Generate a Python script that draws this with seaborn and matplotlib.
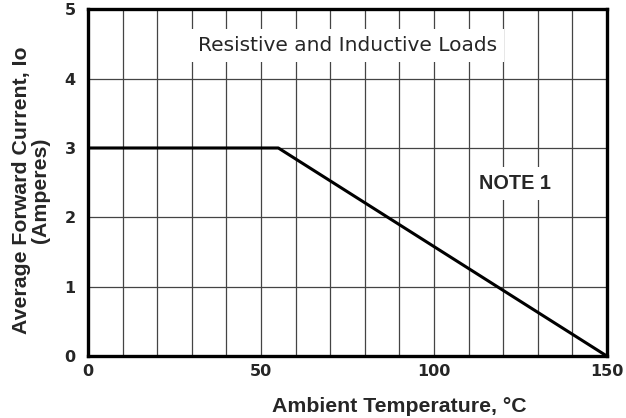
import matplotlib
matplotlib.use("Agg")
import matplotlib.pyplot as plt
import seaborn as sns
import pandas as pd
import numpy as np

temperature = [0, 55, 150]
current = [3, 3, 0]
x_ticks = [0, 50, 100, 150]
y_ticks = [0, 1, 2, 3, 4, 5]

sns.set_style("white")
plt.rcParams['font.family'] = ['Liberation Sans', 'DejaVu Sans']

df = pd.DataFrame({"temp": temperature, "io": current})

fig = plt.figure(figsize=(6.26, 4.18), dpi=100)
ax = fig.add_axes([0.1406, 0.148, 0.829, 0.830])

# grid
for xv in np.arange(10, 150, 10):
    ax.axvline(xv, color="#444444", lw=0.9, zorder=1)
for yv in range(1, 5):
    ax.axhline(yv, color="#444444", lw=0.9, zorder=1)

sns.lineplot(data=df, x="temp", y="io", ax=ax, color="black", lw=2.2, zorder=5)

ax.set_xlim(0, 150)
ax.set_ylim(0, 5)
ax.set_xticks(x_ticks)
ax.set_yticks(y_ticks)
ax.tick_params(axis="x", length=0, pad=6)
ax.tick_params(axis="y", length=0, pad=9)
for lab in ax.get_xticklabels() + ax.get_yticklabels():
    lab.set_fontweight("bold")
    lab.set_family("DejaVu Sans")
    lab.set_fontsize(11.5)
for s in ax.spines.values():
    s.set_linewidth(2.4)
    s.set_color("black")
    s.set_visible(True)

ax.set_xlabel("Ambient Temperature, °C", fontsize=15.3, fontweight="bold", labelpad=10)
ax.xaxis.set_label_coords(0.60, -0.118)
ax.set_ylabel("Average Forward Current, Io\n(Amperes)", fontsize=15.3, fontweight="bold",
              linespacing=1.0)
ax.yaxis.set_label_coords(-0.073, 0.478)

ax.text(75, 4.48, "Resistive and Inductive Loads", ha="center", va="center",
        fontsize=14.5, family="DejaVu Sans", zorder=6,
        bbox=dict(facecolor="white", edgecolor="none", pad=5))
ax.text(123.5, 2.49, "NOTE 1", ha="center", va="center", fontsize=14.3,
        fontweight="bold", zorder=6,
        bbox=dict(facecolor="white", edgecolor="none", pad=5))

fig.savefig("out.png", dpi=100)
